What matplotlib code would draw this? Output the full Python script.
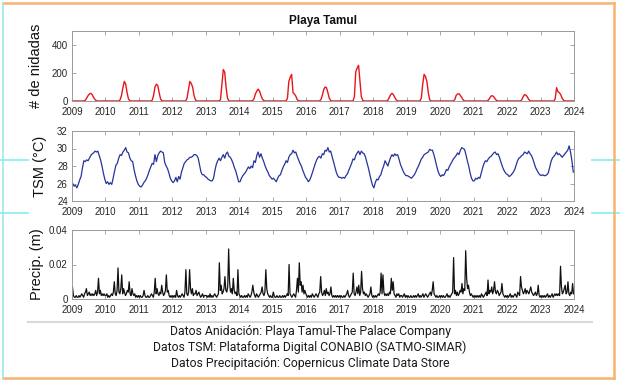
import numpy as np
import matplotlib
matplotlib.use("Agg")
import matplotlib.pyplot as plt
from matplotlib import font_manager
from matplotlib.lines import Line2D

plt.rcParams['font.family'] = ['Liberation Sans', 'DejaVu Sans']

years = list(range(2009, 2024))
year_ticks = list(range(2009, 2025))
title = "Playa Tamul"
ylabels = ["# de nidadas", "TSM (°C)", "Precip. (m)"]
captions = ["Datos Anidación: Playa Tamul-The Palace Company",
            "Datos TSM: Plataforma Digital CONABIO (SATMO-SIMAR)",
            "Datos Precipitación: Copernicus Climate Data Store"]

# Nesting counts, 24 samples per year (half-month)
nidadas = {
    2009: [0,0,0,0,0,0,0,0,0,5,20,38,50,55,45,25,10,2,0,0,0,0,0,0],
    2010: [0,0,0,0,0,0,0,0,0,0,8,40,95,140,120,60,15,2,0,0,0,0,0,0],
    2011: [0,0,0,0,0,0,0,0,0,5,40,100,120,110,60,15,2,0,0,0,0,0,0,0],
    2012: [0,0,0,0,0,0,0,0,0,0,20,80,140,125,100,40,8,0,0,0,0,0,0,0],
    2013: [0,0,0,0,0,0,0,0,0,0,10,120,225,205,100,20,2,0,0,0,0,0,0,0],
    2014: [0,0,0,0,0,0,0,0,0,3,15,50,70,85,70,40,15,3,0,0,0,0,0,0],
    2015: [0,0,0,0,0,0,0,0,0,0,20,140,170,190,60,50,35,10,2,0,0,0,0,0],
    2016: [0,0,0,0,0,0,0,0,0,0,10,40,80,100,95,60,20,3,0,0,0,0,0,0],
    2017: [0,0,0,0,0,0,0,0,0,0,30,210,235,255,140,30,5,0,0,0,0,0,0,0],
    2018: [0,0,0,0,0,0,0,0,0,0,5,25,45,55,45,25,8,0,0,0,0,0,0,0],
    2019: [0,0,0,0,0,0,0,0,0,0,20,120,190,175,140,60,10,0,0,0,0,0,0,0],
    2020: [0,0,0,0,0,0,0,0,0,0,10,40,50,52,40,25,8,0,0,0,0,0,0,0],
    2021: [0,0,0,0,0,0,0,0,0,0,5,20,35,38,30,15,3,0,0,0,0,0,0,0],
    2022: [0,0,0,0,0,0,0,0,0,0,8,30,45,42,30,12,2,0,0,0,0,0,0,0],
    2023: [0,0,0,0,0,0,0,0,0,0,15,95,65,60,45,20,5,0,0,0,0,0,0,0],
}

# Sea surface temperature (°C), 24 samples per year
tsm = {
    2009: [26.0,25.7,25.8,25.5,25.9,26.4,26.8,27.8,28.6,28.5,28.7,28.6,28.9,29.2,29.4,29.5,29.7,29.6,29.7,29.2,28.7,28.0,27.2,26.5],
    2010: [26.0,26.2,25.9,26.1,25.9,26.6,27.4,28.1,28.3,28.9,29.3,29.2,29.6,29.8,30.1,29.6,29.5,28.9,28.6,28.5,27.6,26.9,26.3,25.9],
    2011: [25.7,25.6,25.8,26.1,26.3,26.6,27.0,27.5,27.9,28.3,28.2,29.3,28.5,29.2,29.5,29.7,29.6,29.5,28.4,28.0,27.7,27.2,26.6,26.3],
    2012: [26.1,26.3,26.7,26.2,26.8,26.5,27.3,27.8,28.3,28.5,28.7,28.8,29.0,29.0,29.1,29.3,29.3,29.2,28.9,28.1,27.3,27.0,27.0,26.8],
    2013: [26.7,26.5,26.4,26.3,26.3,26.6,27.5,28.2,28.6,28.9,28.6,29.0,29.3,28.9,29.4,29.6,29.1,29.0,28.7,28.3,27.8,27.4,26.8,26.2],
    2014: [26.2,26.6,26.9,27.1,27.3,27.6,27.9,27.7,28.0,27.8,28.6,28.4,29.2,29.6,29.0,29.4,28.9,28.5,28.0,27.6,27.3,26.9,26.7,26.5],
    2015: [26.6,26.4,26.2,26.6,26.9,27.0,27.5,27.9,28.2,28.6,28.4,29.0,29.3,29.4,29.8,29.5,29.6,29.1,28.7,28.3,28.0,27.5,27.1,26.7],
    2016: [26.5,26.2,26.4,26.8,27.3,27.8,28.3,28.7,29.0,29.1,28.9,29.4,29.3,29.8,29.7,30.1,29.6,29.7,29.1,28.5,27.9,27.3,26.9,26.7],
    2017: [26.7,26.6,26.7,26.6,26.9,27.1,27.5,27.9,28.3,28.8,28.7,29.2,29.5,29.7,29.3,29.7,29.5,29.4,29.0,28.4,27.8,27.1,26.4,25.8],
    2018: [25.5,26.1,26.5,26.4,26.8,27.0,27.6,28.0,28.6,28.3,28.0,28.5,29.0,29.3,29.1,29.4,29.2,29.3,28.8,28.2,27.8,27.4,27.1,26.9],
    2019: [26.9,26.8,26.7,26.6,26.8,27.0,27.3,27.7,28.0,28.4,28.8,29.0,29.3,29.4,29.5,29.6,29.9,29.8,29.8,29.3,28.7,28.0,27.4,27.0],
    2020: [26.8,27.0,26.9,27.2,27.6,27.5,27.9,28.2,28.5,28.8,29.0,29.2,29.5,29.3,29.8,30.1,30.0,29.9,29.3,28.6,28.0,27.2,26.6,26.3],
    2021: [26.3,26.6,26.5,26.7,26.6,27.2,27.8,28.3,28.6,28.5,28.8,29.0,29.1,29.3,29.5,29.6,29.3,29.4,29.0,28.5,28.0,27.6,27.3,27.1],
    2022: [27.0,26.8,26.9,27.1,27.3,27.6,28.1,28.6,28.9,29.0,29.2,29.3,29.6,29.5,29.4,29.7,29.4,29.2,28.8,28.3,27.8,27.5,27.2,27.0],
    2023: [26.9,27.0,26.9,26.9,27.0,27.2,27.8,28.5,28.9,29.1,29.3,29.6,29.3,29.4,29.2,29.0,29.2,29.4,29.6,29.8,30.3,29.6,28.6,27.3],
}

# Precipitation (mm), 36 samples per year (10-day)
precip_mm = {
    2009: [7,2,1,1,2,1,1,2,1,2,3,2,1,3,4,6,2,3,4,2,3,2,3,2,3,5,2,4,12,3,5,2,3,2,3,2],
    2010: [2,3,1,2,1,2,3,2,4,10,3,2,5,18,4,3,6,14,3,6,4,2,3,5,4,10,3,2,6,3,2,3,1,2,1,2],
    2011: [1,2,1,1,2,5,2,1,1,2,1,1,2,3,2,1,4,12,3,6,3,2,4,3,8,4,2,3,5,14,4,5,2,1,2,1],
    2012: [2,1,2,1,5,2,1,2,1,2,3,2,1,4,17,3,2,4,17,6,3,6,2,3,3,5,2,3,4,2,1,2,3,1,2,2],
    2013: [2,1,2,1,3,1,2,1,2,3,2,1,2,3,21,5,8,3,4,6,13,5,4,7,29,10,4,6,3,12,5,3,4,2,17,3],
    2014: [2,1,2,1,1,2,1,2,1,3,2,1,2,4,8,4,2,1,3,2,1,2,3,4,7,3,2,4,17,6,3,2,1,2,1,1],
    2015: [4,2,1,1,2,1,1,2,1,1,2,1,2,1,2,3,2,20,3,2,1,2,3,2,1,5,12,4,21,8,10,4,8,3,5,3],
    2016: [2,1,2,1,2,1,3,2,1,2,3,2,1,3,4,13,4,2,3,5,2,6,3,4,2,3,7,2,1,2,1,2,1,2,1,2],
    2017: [1,2,1,1,2,1,2,3,5,2,1,2,3,4,15,3,2,4,7,3,8,2,4,16,6,3,4,2,3,2,1,2,3,7,2,1],
    2018: [2,1,2,1,2,3,2,4,15,3,14,4,2,3,2,3,2,4,3,12,5,10,3,2,1,3,2,3,1,2,2,1,2,3,1,2],
    2019: [1,2,1,1,2,1,1,2,1,2,1,2,3,1,2,1,2,3,1,2,3,2,1,2,3,4,2,5,10,3,2,1,2,1,1,2],
    2020: [1,2,1,2,1,1,2,3,1,2,1,2,3,4,24,3,5,2,4,2,3,5,4,9,3,6,5,28,12,6,8,4,2,3,2,1],
    2021: [2,1,2,1,2,1,2,1,3,2,1,2,3,4,2,11,3,5,4,7,3,5,10,4,3,5,4,2,3,4,9,3,2,1,2,1],
    2022: [2,1,2,3,1,2,1,2,3,2,1,4,3,2,13,7,5,3,4,6,3,5,4,3,5,7,4,3,2,3,4,2,3,8,2,1],
    2023: [2,1,2,1,2,1,2,3,1,2,1,2,3,1,2,3,2,3,2,3,2,19,7,3,4,6,8,3,4,10,3,2,4,3,9,3],
}


def series(d):
    t, v = [], []
    for y in years:
        vals = d[y]
        n = len(vals)
        for i, val in enumerate(vals):
            t.append(y + (i + 0.5) / n)
            v.append(val)
    return np.array(t), np.array(v, dtype=float)


t_n, v_n = series(nidadas)
t_s, v_s = series(tsm)
t_p, v_p = series(precip_mm)
v_p = v_p / 1000.0  # mm -> m

W, H = 620, 382
fig = plt.figure(figsize=(W / 100, H / 100), dpi=100)
fig.patch.set_facecolor('white')


def px_axes(left, top, right, bottom):
    return fig.add_axes([left / W, 1 - bottom / H, (right - left) / W, (bottom - top) / H])


L, R = 72, 574
ax1 = px_axes(L, 31, R, 101)
ax2 = px_axes(L, 131, R, 201)
ax3 = px_axes(L, 230, R, 299)

tick_col = '#262626'
spine_col = '#9a9a9a'
for ax in (ax1, ax2, ax3):
    ax.set_xlim(2009, 2024)
    ax.set_xticks(year_ticks)
    ax.set_xticklabels([str(y) for y in year_ticks])
    ax.tick_params(direction='in', length=3, width=0.6, colors=spine_col,
                   labelcolor=tick_col, labelsize=7, top=True, right=True)
    ax.tick_params(axis='x', pad=4)
    ax.tick_params(axis='y', pad=3)
    for s in ax.spines.values():
        s.set_color(spine_col)
        s.set_linewidth(0.7)

ax1.plot(t_n, v_n, color='#e8161b', lw=1.0)
ax1.set_ylim(0, 500)
ax1.set_yticks([0, 200, 400])
ax1.set_title(title, fontsize=8.5, fontweight='bold', color='#111111', pad=5)

ax2.plot(t_s, v_s, color='#26339a', lw=0.9)
ax2.set_ylim(24, 32)
ax2.set_yticks([24, 26, 28, 30, 32])

ax3.plot(t_p, v_p, color='#111111', lw=0.9)
ax3.set_ylim(0, 0.04)
ax3.set_yticks([0, 0.02, 0.04])
ax3.set_yticklabels(['0', '0.02', '0.04'])

for ax, lab, xoff, fs in ((ax1, ylabels[0], 43, 10.5), (ax2, ylabels[1], 47, 10.5), (ax3, ylabels[2], 44, 10.5)):
    ax.set_ylabel(lab, fontsize=fs, color='#111111')
    ax.yaxis.set_label_coords((xoff - L) / (R - L), 0.5)

# caption block
names = {f.name for f in font_manager.fontManager.ttflist}
cap_font = ['Liberation Sans Narrow'] if 'Liberation Sans Narrow' in names else ['Roboto', 'DejaVu Sans']
for yy, txt in zip((331, 347, 364), captions):
    fig.text(310 / W, 1 - yy / H, txt, ha='center', va='center', fontsize=8.8,
             family=cap_font, color='#1a1a1a')

# decorations: separator, guide lines, frame
fig.add_artist(Line2D([28 / W, 592 / W], [1 - 322 / H] * 2, color='#d9d9d9', lw=1.5))
for yy in (160, 213):
    fig.add_artist(Line2D([0, 28 / W], [1 - yy / H] * 2, color='#7ff0f0', lw=1.2))
    fig.add_artist(Line2D([592 / W, 1], [1 - yy / H] * 2, color='#7ff0f0', lw=1.2))
orange = '#f8b46e'
fig.add_artist(Line2D([3 / W, 614 / W], [1 - 3 / H] * 2, color=orange, lw=1.8))
fig.add_artist(Line2D([3 / W, 614 / W], [1 - 378 / H] * 2, color=orange, lw=1.8))
fig.add_artist(Line2D([614 / W] * 2, [1 - 3 / H, 1 - 378 / H], color=orange, lw=1.8))
fig.add_artist(Line2D([3 / W] * 2, [1 - 3 / H, 1 - 378 / H], color='#9ee8e8', lw=1.2))

fig.savefig('out.png', dpi=100)
